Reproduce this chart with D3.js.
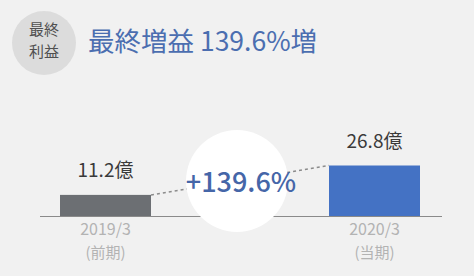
<!DOCTYPE html>
<html>
<head>
<meta charset="utf-8">
<script src="https://cdn.jsdelivr.net/npm/d3@7"></script>
<style>
  html, body { margin: 0; padding: 0; background: #f1f1f1; }
  svg { display: block; font-family: "Noto Sans CJK JP", "Noto Sans", sans-serif; }
</style>
</head>
<body>
<svg></svg>
<script>
// Chart data
let periods = ['2019/3', '2020/3'];
let periodNotes = ['(前期)', '(当期)'];
let values = [11.2, 26.8];
let valueLabels = ['11.2億', '26.8億'];
let growthLabel = '+139.6%';
let titleText = '最終増益 139.6%増';
let badgeLines = ['最終', '利益'];

let svgWidth = 474;
let svgHeight = 276;

let svg = d3.select('svg')
  .attr('width', svgWidth)
  .attr('height', svgHeight);

svg.append('rect')
  .attr('width', svgWidth)
  .attr('height', svgHeight)
  .attr('fill', '#f1f1f1');

// Header badge and title
svg.append('circle')
  .attr('cx', 44)
  .attr('cy', 43)
  .attr('r', 32)
  .attr('fill', '#dcdcdc');

svg.selectAll('.badge-text')
  .data(badgeLines)
  .enter()
  .append('text')
  .attr('class', 'badge-text')
  .attr('x', 44)
  .attr('y', (d, i) => 35 + i * 22)
  .attr('text-anchor', 'middle')
  .attr('font-size', '15px')
  .attr('fill', '#505050')
  .text(d => d);

svg.append('text')
  .attr('x', 88)
  .attr('y', 51)
  .attr('font-size', '26.5px')
  .attr('fill', '#4b6eb0')
  .text(titleText);

// Scales
let baseY = 216;

let xScale = d3.scaleBand()
  .domain(periods)
  .range([60, 420])
  .paddingInner(1 - 91 / 269)
  .paddingOuter(0);

let yScale = d3.scaleLinear()
  .domain([0, d3.max(values)])
  .range([baseY, 165.5]);

let data = periods.map((p, i) => ({
  period: p,
  note: periodNotes[i],
  value: values[i],
  label: valueLabels[i]
}));

// Baseline
svg.append('line')
  .attr('x1', 40)
  .attr('x2', 442)
  .attr('y1', baseY + 0.5)
  .attr('y2', baseY + 0.5)
  .attr('stroke', '#8a8a8a')
  .attr('stroke-width', 1);

// Dashed connector between bar tops (sits behind the circle)
svg.append('line')
  .attr('x1', xScale(periods[0]) + xScale.bandwidth())
  .attr('y1', yScale(values[0]))
  .attr('x2', xScale(periods[1]))
  .attr('y2', yScale(values[1]))
  .attr('stroke', '#8c8c8c')
  .attr('stroke-width', 1.5)
  .attr('stroke-dasharray', '3,3');

// Highlight circle behind the growth label
svg.append('circle')
  .attr('cx', 237)
  .attr('cy', 181)
  .attr('r', 51)
  .attr('fill', '#ffffff');

// Bars
svg.selectAll('.bar')
  .data(data)
  .enter()
  .append('rect')
  .attr('class', 'bar')
  .attr('x', d => xScale(d.period))
  .attr('y', d => yScale(d.value))
  .attr('width', xScale.bandwidth())
  .attr('height', d => baseY - yScale(d.value))
  .attr('fill', (d, i) => i === 0 ? '#6c6f73' : '#4472c4');

// Value labels
svg.selectAll('.value-label')
  .data(data)
  .enter()
  .append('text')
  .attr('class', 'value-label')
  .attr('x', d => xScale(d.period) + xScale.bandwidth() / 2)
  .attr('y', d => yScale(d.value) - 18)
  .attr('text-anchor', 'middle')
  .attr('font-size', '19px')
  .attr('fill', '#3a3a3a')
  .text(d => d.label);

// Period labels
svg.selectAll('.period-label')
  .data(data)
  .enter()
  .append('text')
  .attr('class', 'period-label')
  .attr('x', d => xScale(d.period) + xScale.bandwidth() / 2)
  .attr('y', 235)
  .attr('text-anchor', 'middle')
  .attr('font-size', '16px')
  .attr('fill', '#b3b3b3')
  .text(d => d.period);

svg.selectAll('.note-label')
  .data(data)
  .enter()
  .append('text')
  .attr('class', 'note-label')
  .attr('x', d => xScale(d.period) + xScale.bandwidth() / 2)
  .attr('y', 258)
  .attr('text-anchor', 'middle')
  .attr('font-size', '15px')
  .attr('fill', '#b3b3b3')
  .text(d => d.note);

// Growth label
svg.append('text')
  .attr('x', 241)
  .attr('y', 192)
  .attr('text-anchor', 'middle')
  .attr('font-size', '27px')
  .attr('font-weight', 500)
  .attr('fill', '#4566a8')
  .text(growthLabel);
</script>
</body>
</html>
